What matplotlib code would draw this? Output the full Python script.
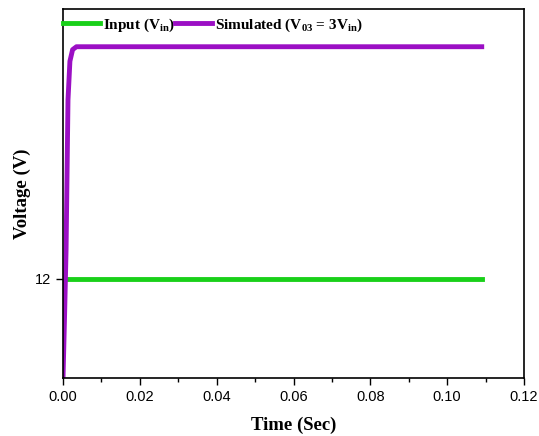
import numpy as np
import matplotlib.pyplot as plt
from matplotlib.ticker import MultipleLocator

# 読み取った値
t_in = [0.0, 0.109]
v_in = [12.0, 12.0]

t_sim = [0.0, 0.0004, 0.0008, 0.0013, 0.0018, 0.0025, 0.0035, 0.109]
v_sim = [1.7, 8.0, 15.0, 30.5, 34.5, 35.7, 36.0, 36.0]

x_ticks = [0.00, 0.02, 0.04, 0.06, 0.08, 0.10, 0.12]
y_ticks = [12]

plt.rcParams['mathtext.default'] = 'regular'

fig = plt.figure(figsize=(5.39, 4.36), dpi=100)
ax = fig.add_axes([63 / 539, 1 - 378 / 436, 461 / 539, 369 / 436])

ax.plot(t_in, v_in, color='#19d019', lw=3.5, label='Input (V$_{in}$)')
ax.plot(t_sim, v_sim, color='#9b0fc4', lw=3.5, label='Simulated (V$_{03}$ = 3V$_{in}$)')

ax.set_xlim(0, 0.12)
ax.set_ylim(1.75, 39.9)
ax.set_xticks(x_ticks)
ax.xaxis.set_minor_locator(MultipleLocator(0.01))
ax.set_yticks(y_ticks)
ax.tick_params(axis='both', which='major', direction='out', length=5, width=1,
               labelsize=10.5)
ax.tick_params(axis='x', which='minor', direction='out', length=3, width=1)
for lab in ax.get_xticklabels() + ax.get_yticklabels():
    lab.set_fontfamily('Liberation Sans')
for sp in ax.spines.values():
    sp.set_linewidth(1.2)

ax.set_xlabel('Time (Sec)', fontfamily='Liberation Serif', fontweight='bold',
              fontsize=13.5, labelpad=9)
ax.set_ylabel('Voltage (V)', fontfamily='Liberation Serif', fontweight='bold',
              fontsize=13.5, labelpad=3)

ax.legend(loc='upper left', bbox_to_anchor=(0.0, 0.98), ncol=2, frameon=False,
          handlelength=2.4, handletextpad=0.2, columnspacing=0.0,
          borderaxespad=0.0, borderpad=0.0,
          prop={'family': 'Liberation Serif', 'weight': 'bold', 'size': 11})

fig.savefig('out.png', dpi=100)
